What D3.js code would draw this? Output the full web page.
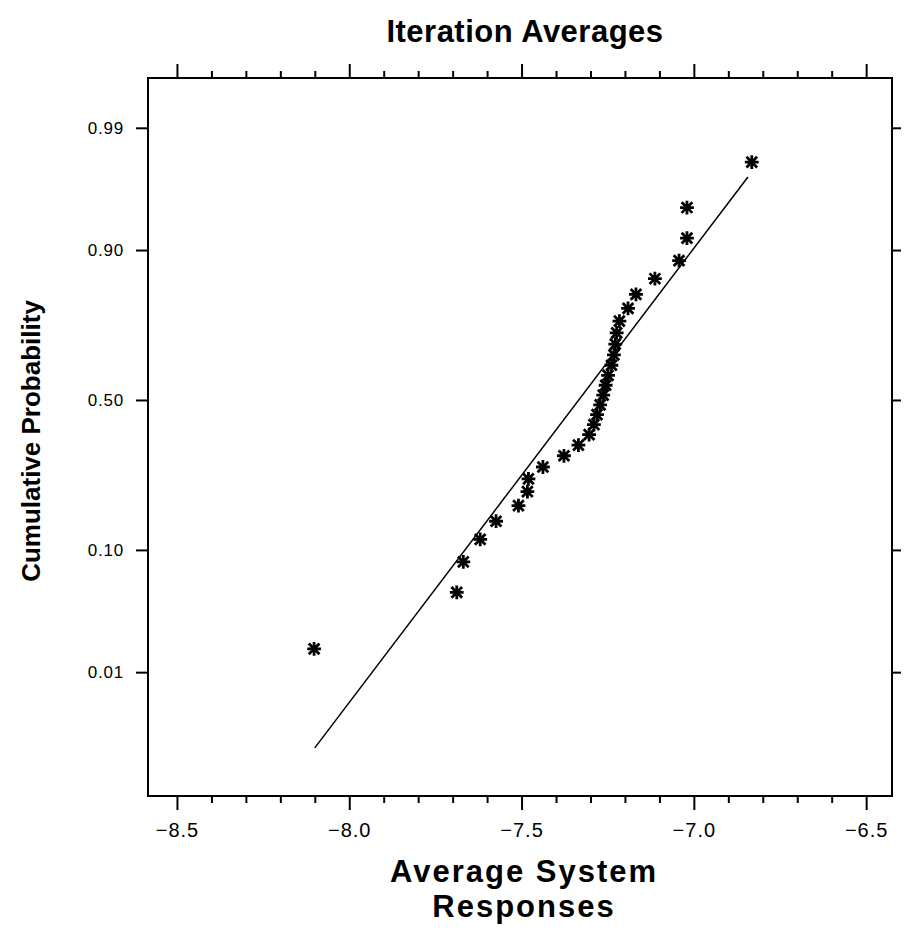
<!DOCTYPE html>
<html>
<head>
<meta charset="utf-8">
<script src="https://cdn.jsdelivr.net/npm/d3@7"></script>
<style>
html,body{margin:0;padding:0;background:#fff;}
svg{display:block;}
text{font-family:"Liberation Sans",Arial,Helvetica,sans-serif;fill:#000;}
</style>
</head>
<body>
<svg id="chart" width="906" height="930"></svg>
<script>
// ---------------- data ----------------
const chartTitle = "Iteration Averages";
const xTitleLines = ["Average System", "Responses"];
const yTitle = "Cumulative Probability";

// sorted average system responses (x) and their plotted cumulative probabilities (y)
const responses = [-8.102, -7.688, -7.669, -7.620, -7.574, -7.509, -7.483, -7.480, -7.438, -7.377,
                   -7.335, -7.304, -7.290, -7.281, -7.272, -7.263, -7.256, -7.249, -7.239, -7.232,
                   -7.228, -7.224, -7.216, -7.191, -7.168, -7.113, -7.043, -7.020, -7.020, -6.832];
const cumProb = [0.0167, 0.0500, 0.0833, 0.1167, 0.1500, 0.1833, 0.2167, 0.2500, 0.2833, 0.3167,
                 0.3500, 0.3833, 0.4167, 0.4500, 0.4833, 0.5167, 0.5500, 0.5833, 0.6167, 0.6500,
                 0.6833, 0.7167, 0.7500, 0.7833, 0.8167, 0.8500, 0.8833, 0.9167, 0.9500, 0.9790];

// fitted normal reference line (end points)
const fitX = [-8.10, -6.843];
const fitP = [0.00147, 0.9717];

// axes
const xMajorTicks = [-8.5, -8.0, -7.5, -7.0, -6.5];
const xMajorLabels = ["\u22128.5", "\u22128.0", "\u22127.5", "\u22127.0", "\u22126.5"];
const xMinorTicks = [-8.4, -8.3, -8.2, -8.1, -7.9, -7.8, -7.7, -7.6, -7.4, -7.3, -7.2, -7.1,
                     -6.9, -6.8, -6.7, -6.6];
const yTickProbs = [0.01, 0.10, 0.50, 0.90, 0.99];
const yTickLabels = ["0.01", "0.10", "0.50", "0.90", "0.99"];
const xDomain = [-8.584, -6.425];
const zDomain = [-3.385, 2.752];

// ---------------- probability (normal quantile) transform ----------------
function probit(p) {
  const a = [-3.969683028665376e+01, 2.209460984245205e+02, -2.759285104469687e+02,
             1.383577518672690e+02, -3.066479806614716e+01, 2.506628277459239e+00];
  const b = [-5.447609879822406e+01, 1.615858368580409e+02, -1.556989798598866e+02,
             6.680131188771972e+01, -1.328068155288572e+01];
  const c = [-7.784894002430293e-03, -3.223964580411365e-01, -2.400758277161838e+00,
             -2.549732539343734e+00, 4.374664141464968e+00, 2.938163982698783e+00];
  const d = [7.784695709041462e-03, 3.224671290700398e-01, 2.445134137142996e+00,
             3.754408661907416e+00];
  const pl = 0.02425, ph = 1 - pl;
  let q, r;
  if (p < pl) {
    q = Math.sqrt(-2 * Math.log(p));
    return (((((c[0]*q+c[1])*q+c[2])*q+c[3])*q+c[4])*q+c[5]) / ((((d[0]*q+d[1])*q+d[2])*q+d[3])*q+1);
  } else if (p <= ph) {
    q = p - 0.5; r = q * q;
    return (((((a[0]*r+a[1])*r+a[2])*r+a[3])*r+a[4])*r+a[5])*q / (((((b[0]*r+b[1])*r+b[2])*r+b[3])*r+b[4])*r+1);
  } else {
    q = Math.sqrt(-2 * Math.log(1 - p));
    return -(((((c[0]*q+c[1])*q+c[2])*q+c[3])*q+c[4])*q+c[5]) / ((((d[0]*q+d[1])*q+d[2])*q+d[3])*q+1);
  }
}

// ---------------- layout ----------------
const svg = d3.select("#chart");
const L = 148, R = 892, T = 78, B = 796;

const x = d3.scaleLinear().domain(xDomain).range([L, R]);
const z = d3.scaleLinear().domain(zDomain).range([B, T]);
const y = p => z(probit(p));

// frame
svg.append("rect").attr("x", L).attr("y", T).attr("width", R - L).attr("height", B - T)
  .attr("fill", "none").attr("stroke", "#000").attr("stroke-width", 2);

// ---------------- axes ----------------
function styleAxis(g) {
  g.select(".domain").remove();
  g.selectAll(".tick line").attr("stroke", "#000").attr("stroke-width", 2);
}
// bottom
svg.append("g").attr("transform", `translate(0,${B})`)
  .call(d3.axisBottom(x).tickValues(xMinorTicks).tickSize(7).tickFormat(""))
  .call(styleAxis);
svg.append("g").attr("transform", `translate(0,${B})`)
  .call(d3.axisBottom(x).tickValues(xMajorTicks).tickSize(14).tickPadding(13)
        .tickFormat((d, i) => xMajorLabels[i]))
  .call(styleAxis)
  .call(g => g.selectAll("text").style("font-size", "20px").attr("letter-spacing", "1px"));
// top
svg.append("g").attr("transform", `translate(0,${T})`)
  .call(d3.axisTop(x).tickValues(xMinorTicks).tickSize(7).tickFormat(""))
  .call(styleAxis);
svg.append("g").attr("transform", `translate(0,${T})`)
  .call(d3.axisTop(x).tickValues(xMajorTicks).tickSize(14).tickFormat(""))
  .call(styleAxis);

// left (probability)
const yAxisScale = d3.scaleLinear().domain(zDomain).range([B, T]);
const yTickZ = yTickProbs.map(probit);
svg.append("g").attr("transform", `translate(${L},0)`)
  .call(d3.axisLeft(yAxisScale).tickValues(yTickZ).tickSize(12).tickPadding(12)
        .tickFormat((d, i) => yTickLabels[i]))
  .call(styleAxis)
  .call(g => g.selectAll("text").style("font-size", "17px").attr("letter-spacing", "0.8px"));
// right
svg.append("g").attr("transform", `translate(${R},0)`)
  .call(d3.axisRight(yAxisScale).tickValues(yTickZ).tickSize(9).tickFormat(""))
  .call(styleAxis);

// ---------------- fitted line ----------------
const fitPts = fitX.map((v, i) => [v, fitP[i]]);
svg.append("path")
  .datum(fitPts)
  .attr("d", d3.line().x(d => x(d[0])).y(d => y(d[1])))
  .attr("fill", "none").attr("stroke", "#000").attr("stroke-width", 1.5);

// ---------------- points ----------------
const pts = responses.map((v, i) => ({x: v, p: cumProb[i]}));
const gp = svg.append("g");
const plusPath = d3.symbol(d3.symbolPlus, 64)();
const timesPath = d3.symbol(d3.symbolTimes, 76)();
const mk = gp.selectAll("g.pt").data(pts).join("g").attr("class", "pt")
  .attr("transform", d => `translate(${x(d.x)},${y(d.p)})`);
mk.append("path").attr("d", plusPath).attr("fill", "none").attr("stroke", "#000").attr("stroke-width", 2.8);
mk.append("path").attr("d", timesPath).attr("fill", "none").attr("stroke", "#000").attr("stroke-width", 2.8);
mk.append("circle").attr("r", 3.3).attr("fill", "#000");

// ---------------- titles ----------------
svg.append("text").attr("x", 525).attr("y", 42).attr("text-anchor", "middle")
  .style("font-size", "31px").style("font-weight", "bold").attr("letter-spacing", "0.5px")
  .text(chartTitle);

svg.append("text").attr("x", 524).attr("y", 882).attr("text-anchor", "middle")
  .style("font-size", "31px").style("font-weight", "bold").attr("letter-spacing", "2px")
  .text(xTitleLines[0]);
svg.append("text").attr("x", 524).attr("y", 917).attr("text-anchor", "middle")
  .style("font-size", "31px").style("font-weight", "bold").attr("letter-spacing", "2px")
  .text(xTitleLines[1]);

svg.append("text").attr("transform", "translate(40,441) rotate(-90)").attr("text-anchor", "middle")
  .style("font-size", "26px").style("font-weight", "bold").text(yTitle);
</script>
</body>
</html>
